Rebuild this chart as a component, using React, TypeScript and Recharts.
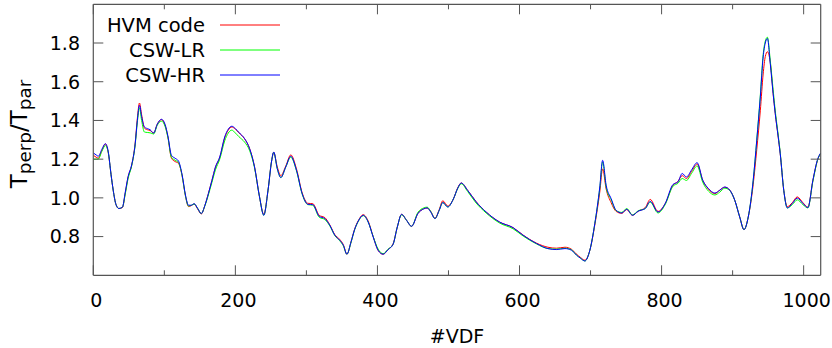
import React from 'react';
import { LineChart, Line, XAxis, YAxis, Legend, Label } from 'recharts';

const vdfIndex = [
  0, 4, 7, 12, 17, 21, 25, 28, 32, 36, 41, 45, 49, 54, 59, 62, 65, 68, 72, 76,
  80, 85, 90, 96, 101, 105, 110, 115, 120, 125, 130, 134, 138, 142, 147, 152, 157, 162, 167, 172,
  178, 185, 190, 195, 200, 205, 213, 220, 227, 234, 240, 246, 251, 254, 259, 264, 271, 278, 286, 294,
  302, 309, 318, 326, 333, 340, 347, 352, 357, 363, 368, 373, 380, 387, 394, 401, 408, 415, 422, 428,
  434, 441, 448, 457, 465, 470, 475, 481, 487, 492, 499, 507, 513, 518, 527, 539, 553, 572, 591, 605,
  624, 640, 652, 664, 673, 680, 686, 692, 699, 706, 713, 717, 722, 729, 736, 744, 751, 759, 767, 777,
  784, 795, 805, 816, 823, 829, 835, 842, 850, 858, 866, 875, 882, 889, 896, 903, 910, 916, 922, 929,
  934, 939, 943, 946, 949, 953, 957, 960, 964, 967, 972, 977, 984, 991, 999, 1006, 1013, 1020, 1024,
];

const cswHR = [
  1.232, 1.222, 1.215, 1.25, 1.28, 1.24, 1.12, 1.04, 0.965, 0.945, 0.952, 1.03, 1.11, 1.17, 1.28, 1.4, 1.478, 1.42, 1.366, 1.358,
  1.352, 1.335, 1.38, 1.406, 1.38, 1.32, 1.22, 1.205, 1.19, 1.12, 1.01, 0.962, 0.962, 0.97, 0.945, 0.919, 0.96, 1.022, 1.09, 1.16,
  1.211, 1.315, 1.355, 1.37, 1.358, 1.338, 1.306, 1.255, 1.16, 1.005, 0.91, 1.04, 1.19, 1.237, 1.151, 1.105, 1.16, 1.215, 1.143, 1.022,
  0.967, 0.965, 0.905, 0.893, 0.858, 0.807, 0.781, 0.755, 0.709, 0.775, 0.838, 0.88, 0.91, 0.875, 0.798, 0.729, 0.709, 0.733, 0.76, 0.85,
  0.915, 0.884, 0.853, 0.919, 0.943, 0.948, 0.927, 0.893, 0.936, 0.976, 0.953, 0.995, 1.05, 1.077, 1.039, 0.979, 0.927, 0.875, 0.846, 0.807,
  0.764, 0.738, 0.733, 0.738, 0.73, 0.705, 0.688, 0.674, 0.729, 0.867, 1.056, 1.194, 1.065, 0.996, 0.936, 0.922, 0.941, 0.91, 0.931, 0.945,
  0.982, 0.927, 0.97, 1.069, 1.082, 1.126, 1.108, 1.143, 1.182, 1.091, 1.048, 1.025, 1.04, 1.056, 1.04, 0.988, 0.901, 0.836, 0.901, 1.091,
  1.298, 1.521, 1.728, 1.8, 1.823, 1.694, 1.54, 1.436, 1.32, 1.229, 1.039, 0.948, 0.971, 0.999, 0.971, 0.95, 1.091, 1.203, 1.232,
];

const cswLR = [
  1.2, 1.2, 1.2, 1.24, 1.27, 1.235, 1.12, 1.04, 0.965, 0.945, 0.952, 1.02, 1.1, 1.165, 1.275, 1.39, 1.465, 1.4, 1.34, 1.338,
  1.336, 1.33, 1.375, 1.396, 1.37, 1.312, 1.21, 1.195, 1.182, 1.115, 1.005, 0.958, 0.962, 0.968, 0.945, 0.919, 0.958, 1.015, 1.08, 1.145,
  1.2, 1.295, 1.335, 1.35, 1.335, 1.316, 1.288, 1.245, 1.155, 1.005, 0.91, 1.04, 1.19, 1.235, 1.15, 1.105, 1.16, 1.21, 1.14, 1.02,
  0.965, 0.962, 0.9, 0.888, 0.855, 0.805, 0.778, 0.752, 0.709, 0.772, 0.836, 0.878, 0.908, 0.875, 0.8, 0.735, 0.712, 0.735, 0.76, 0.85,
  0.913, 0.884, 0.853, 0.925, 0.948, 0.952, 0.93, 0.893, 0.936, 0.976, 0.953, 0.995, 1.048, 1.073, 1.033, 0.973, 0.922, 0.87, 0.84, 0.803,
  0.762, 0.738, 0.735, 0.74, 0.732, 0.705, 0.688, 0.674, 0.729, 0.867, 1.05, 1.185, 1.055, 0.99, 0.934, 0.925, 0.945, 0.912, 0.933, 0.945,
  0.978, 0.922, 0.965, 1.06, 1.075, 1.1, 1.09, 1.125, 1.165, 1.08, 1.035, 1.015, 1.03, 1.05, 1.038, 0.988, 0.901, 0.836, 0.901, 1.091,
  1.3, 1.53, 1.74, 1.81, 1.83, 1.71, 1.56, 1.45, 1.33, 1.235, 1.04, 0.948, 0.965, 0.99, 0.965, 0.948, 1.085, 1.2, 1.23,
];

const hvmCode = [
  1.22, 1.21, 1.205, 1.245, 1.278, 1.235, 1.12, 1.04, 0.965, 0.945, 0.95, 1.025, 1.108, 1.168, 1.285, 1.41, 1.49, 1.43, 1.36, 1.352,
  1.348, 1.335, 1.38, 1.404, 1.375, 1.315, 1.205, 1.188, 1.178, 1.115, 1.005, 0.955, 0.96, 0.968, 0.942, 0.917, 0.96, 1.022, 1.09, 1.158,
  1.208, 1.31, 1.35, 1.366, 1.355, 1.336, 1.305, 1.255, 1.16, 1.005, 0.915, 1.04, 1.19, 1.235, 1.16, 1.115, 1.165, 1.222, 1.15, 1.027,
  0.972, 0.97, 0.91, 0.898, 0.86, 0.81, 0.785, 0.758, 0.709, 0.775, 0.84, 0.882, 0.913, 0.88, 0.8, 0.729, 0.709, 0.733, 0.762, 0.85,
  0.915, 0.884, 0.853, 0.92, 0.943, 0.948, 0.93, 0.895, 0.94, 0.985, 0.958, 0.995, 1.052, 1.077, 1.039, 0.98, 0.927, 0.875, 0.846, 0.808,
  0.766, 0.745, 0.74, 0.745, 0.735, 0.71, 0.692, 0.678, 0.729, 0.86, 1.03, 1.15, 1.045, 0.975, 0.93, 0.92, 0.94, 0.91, 0.931, 0.95,
  0.992, 0.93, 0.97, 1.065, 1.085, 1.115, 1.1, 1.135, 1.175, 1.09, 1.045, 1.022, 1.04, 1.055, 1.04, 0.988, 0.901, 0.836, 0.901, 1.07,
  1.25, 1.45, 1.64, 1.73, 1.755, 1.7, 1.54, 1.436, 1.32, 1.229, 1.039, 0.955, 0.975, 1.005, 0.975, 0.952, 1.09, 1.2, 1.23,
];

const seriesKeys = ['hvm', 'lr', 'hr'];
const seriesNames = ['HVM code', 'CSW-LR', 'CSW-HR'];
const seriesColors = ['#ff0000', '#00ff00', '#0000ff'];

const xTicks = [0, 100, 200, 300, 400, 500, 600, 700, 800, 900, 1000];
const xLabeledTicks = [0, 200, 400, 600, 800, 1000];
const yTicks = [0.8, 1.0, 1.2, 1.4, 1.6, 1.8];
const xDomain = [0, 1024];
const yDomain = [0.6, 2.0];

const data = vdfIndex.map((v, i) => ({ vdf: v, hvm: hvmCode[i], lr: cswLR[i], hr: cswHR[i] }));

const FONT = '"DejaVu Sans", sans-serif';
const AXIS = '#555555';
const TICK_FS = 19;

const BottomTick = (props: any) => {
  const { x, y, payload } = props;
  const major = xLabeledTicks.includes(payload.value);
  return (
    <g>
      <line x1={x} y1={y} x2={x} y2={y - (major ? 10 : 5)} stroke={AXIS} strokeWidth={1} />
      {major && (
        <text x={x + 3} y={y + 31.4} textAnchor="middle" fontFamily={FONT} fontSize={TICK_FS} fill="#000">
          {payload.value}
        </text>
      )}
    </g>
  );
};

const TopTick = (props: any) => {
  const { x, y, payload } = props;
  const major = xLabeledTicks.includes(payload.value);
  return <line x1={x} y1={y} x2={x} y2={y + (major ? 10 : 5)} stroke={AXIS} strokeWidth={1} />;
};

const LeftTick = (props: any) => {
  const { x, y, payload } = props;
  return (
    <g>
      <line x1={x} y1={y} x2={x + 10} y2={y} stroke={AXIS} strokeWidth={1} />
      <text x={x - 13.3} y={y} dy="0.36em" textAnchor="end" fontFamily={FONT} fontSize={TICK_FS} fill="#000">
        {Number(payload.value).toFixed(1)}
      </text>
    </g>
  );
};

const RightTick = (props: any) => {
  const { x, y } = props;
  return <line x1={x} y1={y} x2={x - 10} y2={y} stroke={AXIS} strokeWidth={1} />;
};

const LegendContent = () => (
  <svg width={300} height={90} style={{ display: 'block' }}>
    {seriesNames.map((n, i) => (
      <g key={n}>
        <text x={205} y={25 + 25 * i} dy="0.36em" textAnchor="end" fontFamily={FONT} fontSize={19.5} fill="#000">
          {n}
        </text>
        <line x1={220} x2={280} y1={25 + 25 * i} y2={25 + 25 * i} stroke={seriesColors[i]} strokeWidth={1} />
      </g>
    ))}
  </svg>
);

const YLabel = () => (
  <text transform="translate(27,134) rotate(-90)" textAnchor="middle" fontFamily={FONT} fontSize={23} fill="#000">
    T
    <tspan fontSize={18.4} dy={4}>perp</tspan>
    <tspan dy={-4}>/T</tspan>
    <tspan fontSize={18.4} dy={4}>par</tspan>
  </text>
);

const XLabel = () => (
  <text x={457} y={342.5} textAnchor="middle" fontFamily={FONT} fontSize={19} fill="#000">
    #VDF
  </text>
);

export default function App() {
  return (
    <div style={{ position: 'absolute', left: 0, top: 0, background: '#fff' }}>
      <LineChart
        width={832}
        height={348}
        data={data}
        margin={{ top: 0, right: 6.3, bottom: 42.7, left: 33.3 }}
      >
        <XAxis
          dataKey="vdf"
          type="number"
          domain={xDomain}
          ticks={xTicks}
          allowDataOverflow
          height={30}
          tickSize={0}
          tickMargin={0}
          tickLine={false}
          axisLine={{ stroke: AXIS, strokeWidth: 1.2 }}
          tick={<BottomTick />}
          interval={0}
        >
          <Label content={<XLabel />} />
        </XAxis>
        <XAxis
          xAxisId="top"
          orientation="top"
          dataKey="vdf"
          type="number"
          domain={xDomain}
          ticks={xTicks}
          allowDataOverflow
          height={4.3}
          tickSize={0}
          tickMargin={0}
          tickLine={false}
          axisLine={{ stroke: AXIS, strokeWidth: 1.2 }}
          tick={<TopTick />}
          interval={0}
        />
        <YAxis
          type="number"
          domain={yDomain}
          ticks={yTicks}
          allowDataOverflow
          width={60}
          tickSize={0}
          tickMargin={0}
          tickLine={false}
          axisLine={{ stroke: AXIS, strokeWidth: 1.2 }}
          tick={<LeftTick />}
          interval={0}
        >
          <Label content={<YLabel />} />
        </YAxis>
        <YAxis
          yAxisId="right"
          orientation="right"
          type="number"
          domain={yDomain}
          ticks={yTicks}
          allowDataOverflow
          width={5}
          tickSize={0}
          tickMargin={0}
          tickLine={false}
          axisLine={{ stroke: AXIS, strokeWidth: 1.2 }}
          tick={<RightTick />}
          interval={0}
        />
        <Legend
          layout="vertical"
          align="center"
          verticalAlign="middle"
          content={<LegendContent />}
          wrapperStyle={{ position: 'absolute', left: 0, top: 0, width: 300, height: 90 }}
        />
        {seriesKeys.map((k, i) => (
          <Line
            key={k}
            dataKey={k}
            name={seriesNames[i]}
            type="monotone"
            stroke={seriesColors[i]}
            strokeWidth={1}
            dot={false}
            activeDot={false}
            isAnimationActive={false}
          />
        ))}
      </LineChart>
    </div>
  );
}
